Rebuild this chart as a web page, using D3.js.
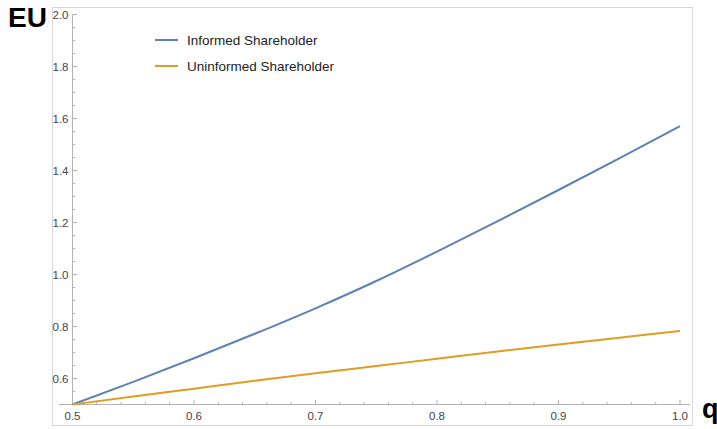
<!DOCTYPE html>
<html>
<head>
<meta charset="utf-8">
<script src="https://cdn.jsdelivr.net/npm/d3@7"></script>
<style>
  html, body { margin: 0; padding: 0; background: #fff; }
  svg { display: block; }
  text { font-family: "Liberation Sans", Arial, sans-serif; }
</style>
</head>
<body>
<svg id="chart" width="717" height="429"></svg>
<script>
// Share of expected utility by signal quality q
const qValues = [0.50, 0.55, 0.60, 0.65, 0.70, 0.75, 0.80, 0.85, 0.90, 0.95, 1.00];
const informed = [0.500, 0.587, 0.678, 0.772, 0.870, 0.975, 1.088, 1.205, 1.325, 1.447, 1.571];
const uninformed = [0.500, 0.531, 0.561, 0.591, 0.620, 0.648, 0.676, 0.704, 0.731, 0.757, 0.783];
const seriesNames = ["Informed Shareholder", "Uninformed Shareholder"];
const seriesColors = ["#5E81B5", "#E19C24"];
const xTicks = [0.5, 0.6, 0.7, 0.8, 0.9, 1.0];
const yTicks = [0.6, 0.8, 1.0, 1.2, 1.4, 1.6, 1.8, 2.0];

const svg = d3.select("#chart");

// Plot frame
svg.append("rect")
  .attr("x", 52.5).attr("y", 7.5)
  .attr("width", 640).attr("height", 418)
  .attr("fill", "none").attr("stroke", "#d6d6d6").attr("stroke-width", 1);

const x = d3.scaleLinear().domain([0.5, 1.0]).range([72.5, 680]);
const y = d3.scaleLinear().domain([0.5, 2.0]).range([404.5, 14.5]);

const axisColor = "#b3b3b3";
const labelColor = "#444";

// X axis: minor ticks every 0.02, majors every 0.1
const xg = svg.append("g");
xg.append("line")
  .attr("x1", 59).attr("x2", 690)
  .attr("y1", y(0.5)).attr("y2", y(0.5))
  .attr("stroke", axisColor).attr("stroke-width", 1);
const xMinor = d3.range(0, 26).map(i => 0.5 + i * 0.02);
xg.selectAll("line.minor").data(xMinor).join("line")
  .attr("class", "minor")
  .attr("x1", d => x(d)).attr("x2", d => x(d))
  .attr("y1", y(0.5)).attr("y2", d => y(0.5) - (Math.abs(Math.round(d * 10) - d * 10) < 1e-6 ? 4.5 : 2.5))
  .attr("stroke", axisColor).attr("stroke-width", 1);
xg.selectAll("text").data(xTicks).join("text")
  .attr("x", d => x(d)).attr("y", 420)
  .attr("text-anchor", "middle")
  .attr("font-size", 11.5).attr("fill", labelColor)
  .text(d => d3.format(".1f")(d));

// Y axis: minor ticks every 0.05, majors every 0.2
const yg = svg.append("g");
yg.append("line")
  .attr("x1", x(0.5)).attr("x2", x(0.5))
  .attr("y1", y(0.5)).attr("y2", y(2.0))
  .attr("stroke", axisColor).attr("stroke-width", 1);
const yMinor = d3.range(0, 31).map(i => 0.5 + i * 0.05);
yg.selectAll("line.minor").data(yMinor).join("line")
  .attr("class", "minor")
  .attr("x1", x(0.5))
  .attr("x2", d => x(0.5) + (Math.abs(Math.round(d * 5) - d * 5) < 1e-6 ? 4.5 : 2.5))
  .attr("y1", d => y(d)).attr("y2", d => y(d))
  .attr("stroke", axisColor).attr("stroke-width", 1);
yg.selectAll("text").data(yTicks).join("text")
  .attr("x", 68.5).attr("y", d => y(d) + 4)
  .attr("text-anchor", "end")
  .attr("font-size", 11.5).attr("fill", labelColor)
  .text(d => d3.format(".1f")(d));

// Curves
const line = d3.line()
  .x(d => x(d[0])).y(d => y(d[1]))
  .curve(d3.curveMonotoneX);
[informed, uninformed].forEach((vals, i) => {
  svg.append("path")
    .datum(qValues.map((q, j) => [q, vals[j]]))
    .attr("d", line)
    .attr("fill", "none")
    .attr("stroke", seriesColors[i])
    .attr("stroke-width", 2);
});

// Legend
const legend = svg.append("g");
seriesNames.forEach((name, i) => {
  const ly = 40 + i * 26;
  legend.append("line")
    .attr("x1", 155).attr("x2", 178)
    .attr("y1", ly).attr("y2", ly)
    .attr("stroke", seriesColors[i]).attr("stroke-width", 2);
  legend.append("text")
    .attr("x", 187).attr("y", ly + 5)
    .attr("font-size", 13.5).attr("fill", "#222")
    .text(name);
});

// Axis titles
svg.append("text")
  .attr("x", 8).attr("y", 27)
  .attr("font-size", 28).attr("font-weight", "bold").attr("fill", "#000")
  .text("EU");
svg.append("text")
  .attr("x", 702).attr("y", 418)
  .attr("font-size", 27).attr("font-weight", "bold").attr("fill", "#000")
  .text("q");
</script>
</body>
</html>
